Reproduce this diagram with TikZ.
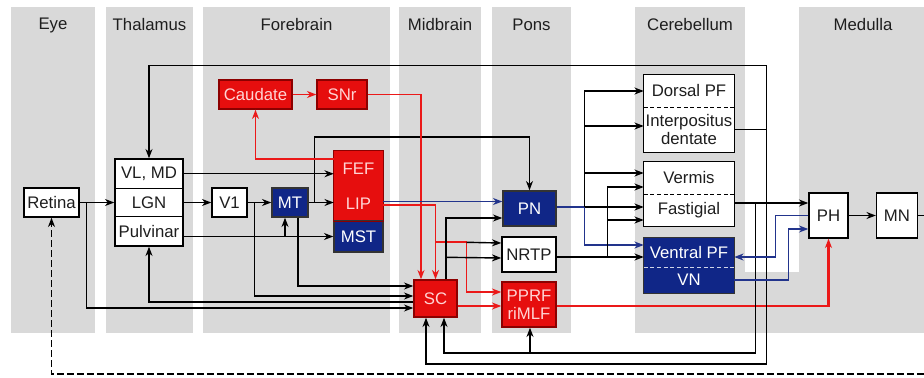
\documentclass[tikz,border=0pt]{standalone}
\usepackage{fontspec}
\setmainfont{Liberation Sans}
\usetikzlibrary{arrows.meta,calc}

\definecolor{bandgray}{RGB}{217,217,217}
\definecolor{boxred}{RGB}{230,14,14}
\definecolor{edgered}{RGB}{140,0,0}
\definecolor{linered}{RGB}{235,25,25}
\definecolor{boxnavy}{RGB}{16,38,135}
\definecolor{linenavy}{RGB}{34,52,140}
\definecolor{pinktext}{RGB}{255,212,212}
\definecolor{inktext}{RGB}{30,30,30}

\newcommand\cellfont{\fontsize{14.3}{15.5}\selectfont}
\newcommand\regfont{\fontsize{14.3}{15.5}\selectfont}

\tikzset{
  band/.style={fill=bandgray},
  region/.style={font=\regfont, text=inktext},
  dims/.style 2 args={minimum width=#1*0.3mm, minimum height=#2*0.3mm},
  cell/.style={inner sep=0pt, align=center, font=\cellfont},
  wbox/.style={cell, draw=black, fill=white, text=inktext, line width=1.2pt},
  rbox/.style={cell, draw=edgered, fill=boxred, text=pinktext, line width=1.2pt},
  nbox/.style={cell, draw=black!80, fill=boxnavy, text=white, line width=1.2pt},
  wcell/.style={cell, fill=white, text=inktext},
  rcell/.style={cell, fill=boxred, text=pinktext},
  ncell/.style={cell, fill=boxnavy, text=white},
  conn/.style={line width=1.2pt, -{Stealth[length=2.8mm,width=2.1mm]}},
  rconn/.style={conn, draw=linered, line width=1.5pt},
  nconn/.style={conn, draw=linenavy},
}

\begin{document}
\begin{tikzpicture}[x=0.3mm, y=-0.3mm]

\useasboundingbox (0,0) rectangle (924,377);

% --- Regions ---
\fill[band] (11,7) rectangle (95,333);
\fill[band] (106,7) rectangle (193,333);
\fill[band] (203,7) rectangle (390,333);
\fill[band] (399,7) rectangle (481,333);
\fill[band] (492,7) rectangle (571,333);
\fill[band] (635,7) rectangle (745,333);
\fill[band] (799,7) rectangle (924,333);
\fill[band] (745,272) rectangle (799,333);

\node[region] (teye) at (53,25) {Eye};
\node[region] (tthal) at (149.5,25) {Thalamus};
\node[region] (tfore) at (296.5,25) {Forebrain};
\node[region] (tmid) at (440,25) {Midbrain};
\node[region] (tpons) at (531.5,25) {Pons};
\node[region] (tcer) at (690,25) {Cerebellum};
\node[region] (tmed) at (863,25) {Medulla};

% --- Eye and thalamus ---
\node[wbox, dims={55}{29}] (retina) at (51.5,202.5) {Retina};
\node[wbox, dims={68}{29.5}] (vlmd) at (149,173.75) {VL, MD};
\node[wbox, dims={68}{28}] (lgn) at (149,202.5) {LGN};
\node[wbox, dims={68}{29.5}] (pulv) at (149,231.25) {Pulvinar};

% --- Forebrain ---
\node[wbox, dims={35}{29}] (v1) at (229.5,202.5) {V1};
\node[nbox, dims={36}{29}] (mt) at (290,202.5) {MT};
\node[rbox, dims={73}{29}] (caudate) at (255.5,94.5) {Caudate};
\node[rbox, dims={50}{29}] (snr) at (342,94.5) {SNr};

\node[rcell, dims={49}{35}] (fef) at (358.5,168.5) {FEF};
\node[rcell, dims={49}{35}] (lip) at (358.5,203.5) {LIP};
\node[nbox, dims={49}{31}] (mst) at (358.5,236.5) {MST};
\draw[edgered, line width=1.2pt] (fef.north west) rectangle (lip.south east);

% --- Midbrain and pons ---
\node[rbox, dims={43}{37}] (sc) at (435.5,298.5) {SC};
\node[nbox, dims={53}{35}] (pn) at (529.5,208.5) {PN};
\node[wbox, dims={54}{35}] (nrtp) at (529,254.5) {NRTP};
\node[rbox, dims={54}{45}] (pprf) at (529,304.5) {PPRF\\riMLF};

% --- Cerebellum ---
\node[wcell, dims={90}{32}] (dorsal) at (689,91) {Dorsal PF};
\node[wcell, dims={90}{45}] (interp) at (689,129.5) {Interpositus\\dentate};
\draw[line width=1.2pt] (dorsal.north west) rectangle (interp.south east);
\draw[line width=1pt, dash pattern=on 1.2mm off 0.8mm] (dorsal.south west) -- (dorsal.south east);

\node[wcell, dims={90}{32}] (vermis) at (689,178) {Vermis};
\node[wcell, dims={90}{32}] (fastig) at (689,210) {Fastigial};
\draw[line width=1.2pt] (vermis.north west) rectangle (fastig.south east);
\draw[line width=1pt, dash pattern=on 1.2mm off 0.8mm] (vermis.south west) -- (vermis.south east);

\node[ncell, dims={90}{29}] (ventral) at (689,252.5) {Ventral PF};
\node[ncell, dims={90}{26}] (vn) at (689,280) {VN};
\draw[black!80, line width=1.2pt] (ventral.north west) rectangle (vn.south east);
\draw[white!80!boxnavy, line width=1pt, dash pattern=on 1.2mm off 0.8mm] (ventral.south west) -- (ventral.south east);

% --- Medulla ---
\node[wbox, dims={39}{45}] (ph) at (828.5,215.5) {PH};
\node[wbox, dims={41}{45}] (mn) at (897,215.5) {MN};

% --- Visual pathway ---
\draw[conn] (retina.east) -- (lgn.west);
\draw[conn] (lgn.east) -- (v1.west);
\draw[conn] (v1.east) -- (mt.west);
\draw[conn] (retina.east) -- ++(7,0) |- ($(sc.west)+(0,9.5)$);
\draw[conn] ($(sc.west)+(0,3.5)$) -| (pulv.south);
\draw[conn] (v1.east) -- ++(7,0) |- ($(sc.west)+(0,-2.5)$);
\draw[conn] ($(mt.south)+(8,0)$) |- ($(sc.west)+(0,-12.5)$);
\draw[conn] (pulv.east |- mst.west) -- (mst.west);
\coordinate (pm) at ($(mt.south)+(-5,0)$);
\draw[conn] (pm |- mst.west) -- (pm);
\draw[conn] (vlmd.east) -- (vlmd.east -| fef.west);
\draw[conn] (mt.east) -- (mt.east -| lip.west);
\draw[conn] ($(mt.east)+(6,0)$) -- ++(0,-65.5) -| (pn.north);

% --- Basal ganglia loop ---
\draw[rconn] ($(fef.west)+(0,-9.5)$) -| (caudate.south);
\draw[rconn] (caudate) -- (snr);
\draw[rconn] (snr.east) -| ($(sc.north)+(-14.5,0)$);

% --- Cortex and SC to brainstem ---
\coordinate (lipout) at ($(lip.east)+(0,-2)$);
\draw[nconn] (lipout) -- (lipout -| pn.west);
\draw[rconn] ($(lip.east)+(0,1.5)$) -| (sc.north);
\draw[rconn] ($(sc.north)+(0,-37)$) -- ++(31,0) |- ($(pprf.west)+(0,-12.5)$);
\draw[conn] ($(sc.north)+(31,-37)$) -- ($(nrtp.west)+(0,-11.5)$);
\draw[conn] ($(sc.north)+(10.5,0)$) |- ($(pn.west)+(0,9.5)$);
\draw[conn] ($(sc.north)+(10.5,-22)$) -- ($(nrtp.west)+(0,3.5)$);
\draw[rconn] ($(sc.east)+(0,7.5)$) -- ($(pprf.west)+(0,1.5)$);
\coordinate (ppout) at ($(pprf.east)+(0,1.5)$);
\draw[rconn, line width=1.8pt] (ppout) -- (ppout -| ph.south) -- (ph.south);

% --- Pons to cerebellum ---
\draw[nconn] ($(pn.east)+(0,-1.5)$) -- ++(28,0) |- ($(ventral.west)+(0,-7.5)$);
\coordinate (pnbus) at ($(pn.east)+(28,-1.5)$);
\draw[conn] (pnbus) -- (pnbus -| fastig.west);
\draw[conn] (pnbus) |- (dorsal.west);
\draw[conn] (pnbus) |- ($(interp.west)+(0,-3.5)$);
\draw[conn] (pnbus) |- ($(vermis.west)+(0,-5)$);

\coordinate (nrbus) at ($(nrtp.east)+(51,2.5)$);
\draw[conn] ($(nrtp.east)+(0,2.5)$) -- ($(ventral.west)+(0,4.5)$);
\draw[conn] (nrbus) |- ($(vermis.west)+(0,9)$);
\draw[conn] (nrbus) |- ($(fastig.west)+(0,10)$);

% --- Cerebellar outputs ---
\coordinate (ibus) at ($(interp.east)+(32,0)$);
\draw[line width=1.2pt] (interp.east) -- (ibus);
\draw[conn] (ibus) |- ($(vlmd.north)+(0,-93)$) -- (vlmd.north);
\draw[conn] (ibus) -- ++(0,234.5) -| ($(sc.south)+(-9.5,0)$);

\coordinate (fbus) at ($(fastig.east)+(21,-7)$);
\draw[conn] ($(fastig.east)+(0,-7)$) -- ($(ph.west)+(0,-12.5)$);
\draw[conn] (fbus) -- ++(0,150) -| ($(sc.south)+(8.5,0)$);
\draw[conn] ($(pprf.south)+(1,26)$) -- ($(pprf.south)+(1,0)$);

% --- Vestibular loop and output ---
\draw[nconn] (ph.west) -- ++(-33,0) |- ($(ventral.east)+(0,4.5)$);
\draw[nconn] (vn.east) -- ++(54,0) |- ($(ph.west)+(0,13.5)$);
\draw[conn] (ph) -- (mn);
\draw[line width=1.2pt] (mn.east) -- ++(6,0);

% --- Feedback to retina ---
\coordinate (fback) at (924,374);
\draw[conn, dash pattern=on 2mm off 1mm] (fback) -| (retina.south);

\end{tikzpicture}
\end{document}
